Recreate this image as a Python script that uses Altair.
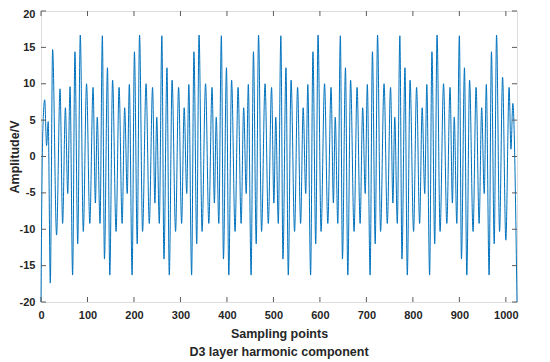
import altair as alt
import pandas as pd

# ---- extrema of the waveform (sample index, amplitude in V) ----
start_x = [0, 2, 5, 8, 12, 15.5, 20, 25, 33.5, 41, 46.5, 52.5, 57.5, 62.5, 68, 73, 79, 84.5,
           91, 98, 105, 112, 117, 121, 127]
start_y = [-20, -4, 5.5, 7.8, 1.5, 4.8, -17.4, 14.7, -10.8, 9.3, -9.2, 6.7, -5.1, 9.6, -16.3,
           14.4, -12.0, 16.7, -10.3, 10.0, -9.2, 9.5, -6.4, 5.4, -9.2]

cycle_y = [16.6, -14.1, 12.2, -16.3, 10.5, -10.3, 9.5, -9.2, 6.7, -5.1, 9.9, -16.3, 14.4, -12.0,
           16.7, -10.3, 10.0, -9.2, 9.5, -6.4, 5.4, -9.2]

c1_x = [132, 136.5, 143, 148, 154, 161.5, 168, 174.5, 180, 185.5, 190, 196, 201, 207, 212, 218.5,
        226, 233, 240, 245, 249, 254.5]
c2_x = [260, 264.5, 271, 276, 282, 289.5, 296, 302.5, 308, 313.5, 318, 324, 329, 335, 340, 346.5,
        354, 361, 368, 373, 377, 382.5]
c3_x = [388, 392.5, 399, 404, 410, 417.5, 424, 430.5, 436, 441.5, 446, 452, 457, 463, 468, 474.5,
        482, 489, 496, 501, 505, 510.5]
c4_x = [516, 520.5, 527, 532, 538, 545.5, 552, 558.5, 564, 569.5, 574, 580, 585, 591, 596, 602.5,
        610, 617, 624, 629, 633, 638.5]
c5_x = [644, 648.5, 655, 660, 666, 673.5, 680, 686.5, 692, 697.5, 702, 708, 713, 719, 724, 730.5,
        738, 745, 752, 757, 761, 766.5]
c6_x = [772, 776.5, 783, 788, 794, 801.5, 808, 814.5, 820, 825.5, 830, 836, 841, 847, 852, 858.5,
        866, 873, 880, 885, 889, 894.5]

end_x = [900, 904.5, 911, 916, 922, 929.5, 936, 942.5, 948, 953.5, 958, 964, 969, 975, 980, 986.5,
         993, 1000, 1007, 1011, 1015, 1024]
end_y = [16.6, -14.1, 12.2, -16.3, 10.5, -10.3, 9.5, -9.2, 6.7, -5.1, 9.9, -16.3, 14.4, -12.0,
         16.7, -10.3, 10.9, -11.5, 9.5, 1.0, 7.3, -20]

x_ticks = [0, 100, 200, 300, 400, 500, 600, 700, 800, 900, 1000]
y_ticks = [-20, -15, -10, -5, 0, 5, 10, 15, 20]

xs = start_x + c1_x + c2_x + c3_x + c4_x + c5_x + c6_x + end_x
ys = start_y + cycle_y * 6 + end_y
df = pd.DataFrame({"x": xs, "y": ys})

W, H = 476, 291
FONT = "Liberation Sans"
FRAME = "#5a5a5a"
TEXT = "#262626"
TL = 5

xscale = alt.Scale(domain=[0, 1024], nice=False, zero=False)
yscale = alt.Scale(domain=[-20, 20], nice=False, zero=False)

common_axis = dict(
    ticks=False, tickSize=0, domain=False, grid=False, labelFlush=False, labelOverlap=False,
    labelExpr="'' + datum.value", labelFont=FONT, labelFontSize=11, labelFontWeight="bold",
    labelColor=TEXT, titleFont=FONT, titleFontSize=12.5, titleFontWeight="bold",
    titleColor=TEXT,
)

x_axis = alt.Axis(values=x_ticks, title="Sampling points", labelPadding=7,
                  titleBaseline="alphabetic", titleY=35, titleX=W / 2, **common_axis)
y_axis = alt.Axis(values=y_ticks, title="Amplitude/V", labelPadding=6,
                  labelOffset={"condition": {"test": "datum.value >= 20", "value": 3},
                               "value": 0},
                  titleBaseline="alphabetic", titleAngle=270, titleX=-23, titleY=H / 2,
                  **common_axis)

line = alt.Chart(df).mark_line(color="#0072BD", strokeWidth=1, interpolate="monotone").encode(
    x=alt.X("x:Q", scale=xscale, axis=x_axis),
    y=alt.Y("y:Q", scale=yscale, axis=y_axis),
)

xt = pd.DataFrame({"x": x_ticks})
yt = pd.DataFrame({"y": y_ticks})

bottom_ticks = alt.Chart(xt).mark_rule(color=FRAME, strokeWidth=1).encode(
    x=alt.X("x:Q", scale=xscale, axis=x_axis), y=alt.value(H), y2=alt.value(H - TL))
top_ticks = alt.Chart(xt).mark_rule(color=FRAME, strokeWidth=1).encode(
    x=alt.X("x:Q", scale=xscale, axis=x_axis), y=alt.value(0), y2=alt.value(TL))
left_ticks = alt.Chart(yt).mark_rule(color=FRAME, strokeWidth=1).encode(
    y=alt.Y("y:Q", scale=yscale, axis=y_axis), x=alt.value(0), x2=alt.value(TL))
right_ticks = alt.Chart(yt).mark_rule(color=FRAME, strokeWidth=1).encode(
    y=alt.Y("y:Q", scale=yscale, axis=y_axis), x=alt.value(W - TL), x2=alt.value(W))

chart = alt.layer(line, bottom_ticks, top_ticks, left_ticks, right_ticks).properties(
    width=W, height=H,
    title=alt.Title("D3 layer harmonic component", orient="bottom", anchor="middle",
                    font=FONT, fontSize=12.5, fontWeight="bold", color=TEXT, offset=6,
                    baseline="top"),
    padding={"left": 33, "top": 3, "right": 25, "bottom": 70},
    autosize=alt.AutoSizeParams(type="none"),
).configure_view(stroke=FRAME, strokeWidth=1).configure(font=FONT, background="white")

chart.save("out.html", embed_options={"renderer": "svg", "actions": False})
